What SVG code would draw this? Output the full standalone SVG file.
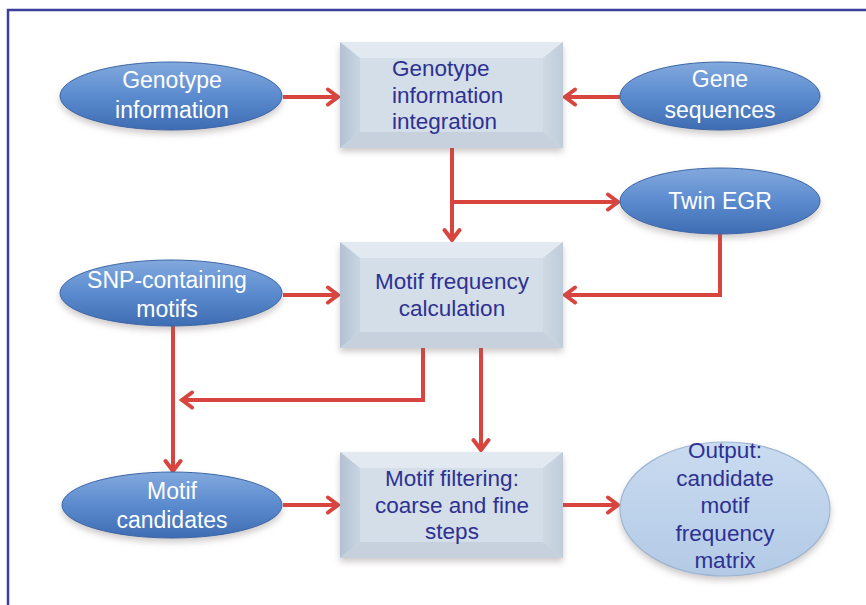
<svg xmlns="http://www.w3.org/2000/svg" width="866" height="605" viewBox="0 0 866 605">
<defs>
<style>
.frame{stroke:#3b3f9c;stroke-width:2.5;fill:none}
.conn{fill:none;stroke:#d8453e;stroke-width:4;stroke-linejoin:miter}
.wt{font-family:"Liberation Sans",Arial,sans-serif;font-size:23px;fill:#ffffff;text-anchor:middle}
.bt{font-family:"Liberation Sans",Arial,sans-serif;font-size:22.5px;fill:#2e3192;text-anchor:middle}
.dark{fill:url(#gBlue);stroke:#3a66a6;stroke-width:1}
.light{fill:url(#gLight);stroke:#9fb6d2;stroke-width:1.2}
</style>
<linearGradient id="gBlue" x1="0" y1="0" x2="0" y2="1">
<stop offset="0" stop-color="#82a9dd"/>
<stop offset="0.5" stop-color="#5b8bcf"/>
<stop offset="1" stop-color="#3e6cb2"/>
</linearGradient>
<linearGradient id="gLight" x1="0" y1="0" x2="0" y2="1">
<stop offset="0" stop-color="#c9dbf0"/>
<stop offset="1" stop-color="#b3cae6"/>
</linearGradient>
<linearGradient id="gLeft" x1="0" y1="0" x2="1" y2="0">
<stop offset="0" stop-color="#b3c1d2"/>
<stop offset="1" stop-color="#c9d5e1"/>
</linearGradient>
<linearGradient id="gRight" x1="0" y1="0" x2="1" y2="0">
<stop offset="0" stop-color="#cfd9e4"/>
<stop offset="1" stop-color="#bfccda"/>
</linearGradient>
<filter id="sh" x="-10%" y="-10%" width="120%" height="130%">
<feDropShadow dx="0" dy="4" stdDeviation="3" flood-color="#7a6a6a" flood-opacity="0.35"/>
</filter>
<marker id="ah" viewBox="0 0 16 20" markerWidth="16" markerHeight="20" refX="13" refY="10" orient="auto" markerUnits="userSpaceOnUse">
<path d="M3,2.5 L13,10 L3,17.5" fill="none" stroke="#d8453e" stroke-width="4" stroke-linecap="round" stroke-linejoin="miter"/>
</marker>
<g id="bevel">
<rect x="0" y="0" width="223" height="106" fill="#d3dee8"/>
<polygon points="0,0 223,0 203,16 20,16" fill="#e2e9f0"/>
<polygon points="0,0 20,16 20,90 0,106" fill="url(#gLeft)"/>
<polygon points="223,0 223,106 203,90 203,16" fill="url(#gRight)"/>
<polygon points="0,106 20,90 203,90 223,106" fill="#c6d1dd"/>
<rect x="20" y="16" width="183" height="74" fill="#d3dee8"/>
</g>
</defs>
<rect x="0" y="0" width="866" height="605" fill="#ffffff"/>
<path class="frame" d="M8,605 V10 H866"/>

<g id="connectors">
<path class="conn" d="M283,97 H338" marker-end="url(#ah)"/>
<path class="conn" d="M620,97 H565" marker-end="url(#ah)"/>
<path class="conn" d="M452,148 V240" marker-end="url(#ah)"/>
<path class="conn" d="M452,202 H618" marker-end="url(#ah)"/>
<path class="conn" d="M720,234 V295 H565" marker-end="url(#ah)"/>
<path class="conn" d="M283,295 H338" marker-end="url(#ah)"/>
<path class="conn" d="M423,348 V400 H182" marker-end="url(#ah)"/>
<path class="conn" d="M173,326 V471" marker-end="url(#ah)"/>
<path class="conn" d="M481,348 V450" marker-end="url(#ah)"/>
<path class="conn" d="M283,505 H338" marker-end="url(#ah)"/>
<path class="conn" d="M563,505 H618" marker-end="url(#ah)"/>
</g>

<g id="genotype-information">
<ellipse class="dark" cx="171" cy="96" rx="111" ry="34" filter="url(#sh)"/>
<text class="wt" x="172" y="88">Genotype</text>
<text class="wt" x="172" y="118">information</text>
</g>

<g id="gene-sequences">
<ellipse class="dark" cx="720" cy="96" rx="100" ry="34" filter="url(#sh)"/>
<text class="wt" x="720" y="87">Gene</text>
<text class="wt" x="720" y="118">sequences</text>
</g>

<g id="twin-egr">
<ellipse class="dark" cx="720" cy="201" rx="100" ry="33" filter="url(#sh)"/>
<text class="wt" x="720" y="209">Twin EGR</text>
</g>

<g id="snp-motifs">
<ellipse class="dark" cx="171" cy="293" rx="111" ry="33" filter="url(#sh)"/>
<text class="wt" x="167" y="288">SNP-containing</text>
<text class="wt" x="167" y="317">motifs</text>
</g>

<g id="motif-candidates">
<ellipse class="dark" cx="172" cy="505" rx="110" ry="33" filter="url(#sh)"/>
<text class="wt" x="172" y="499">Motif</text>
<text class="wt" x="172" y="528">candidates</text>
</g>

<g id="output">
<ellipse class="light" cx="725" cy="509" rx="105" ry="67" filter="url(#sh)"/>
<text class="bt" x="725" y="458">Output:</text>
<text class="bt" x="725" y="486">candidate</text>
<text class="bt" x="725" y="513">motif</text>
<text class="bt" x="725" y="541">frequency</text>
<text class="bt" x="725" y="568">matrix</text>
</g>

<g id="integration">
<use href="#bevel" x="340" y="42" filter="url(#sh)"/>
<text class="bt" x="392" y="76" style="text-anchor:start">Genotype</text>
<text class="bt" x="392" y="103" style="text-anchor:start">information</text>
<text class="bt" x="392" y="129" style="text-anchor:start">integration</text>
</g>

<g id="frequency-calculation">
<use href="#bevel" x="340" y="242" filter="url(#sh)"/>
<text class="bt" x="452" y="289">Motif frequency</text>
<text class="bt" x="452" y="316">calculation</text>
</g>

<g id="filtering">
<use href="#bevel" x="340" y="452" filter="url(#sh)"/>
<text class="bt" x="452" y="486">Motif filtering:</text>
<text class="bt" x="452" y="513">coarse and fine</text>
<text class="bt" x="452" y="539">steps</text>
</g>
</svg>
